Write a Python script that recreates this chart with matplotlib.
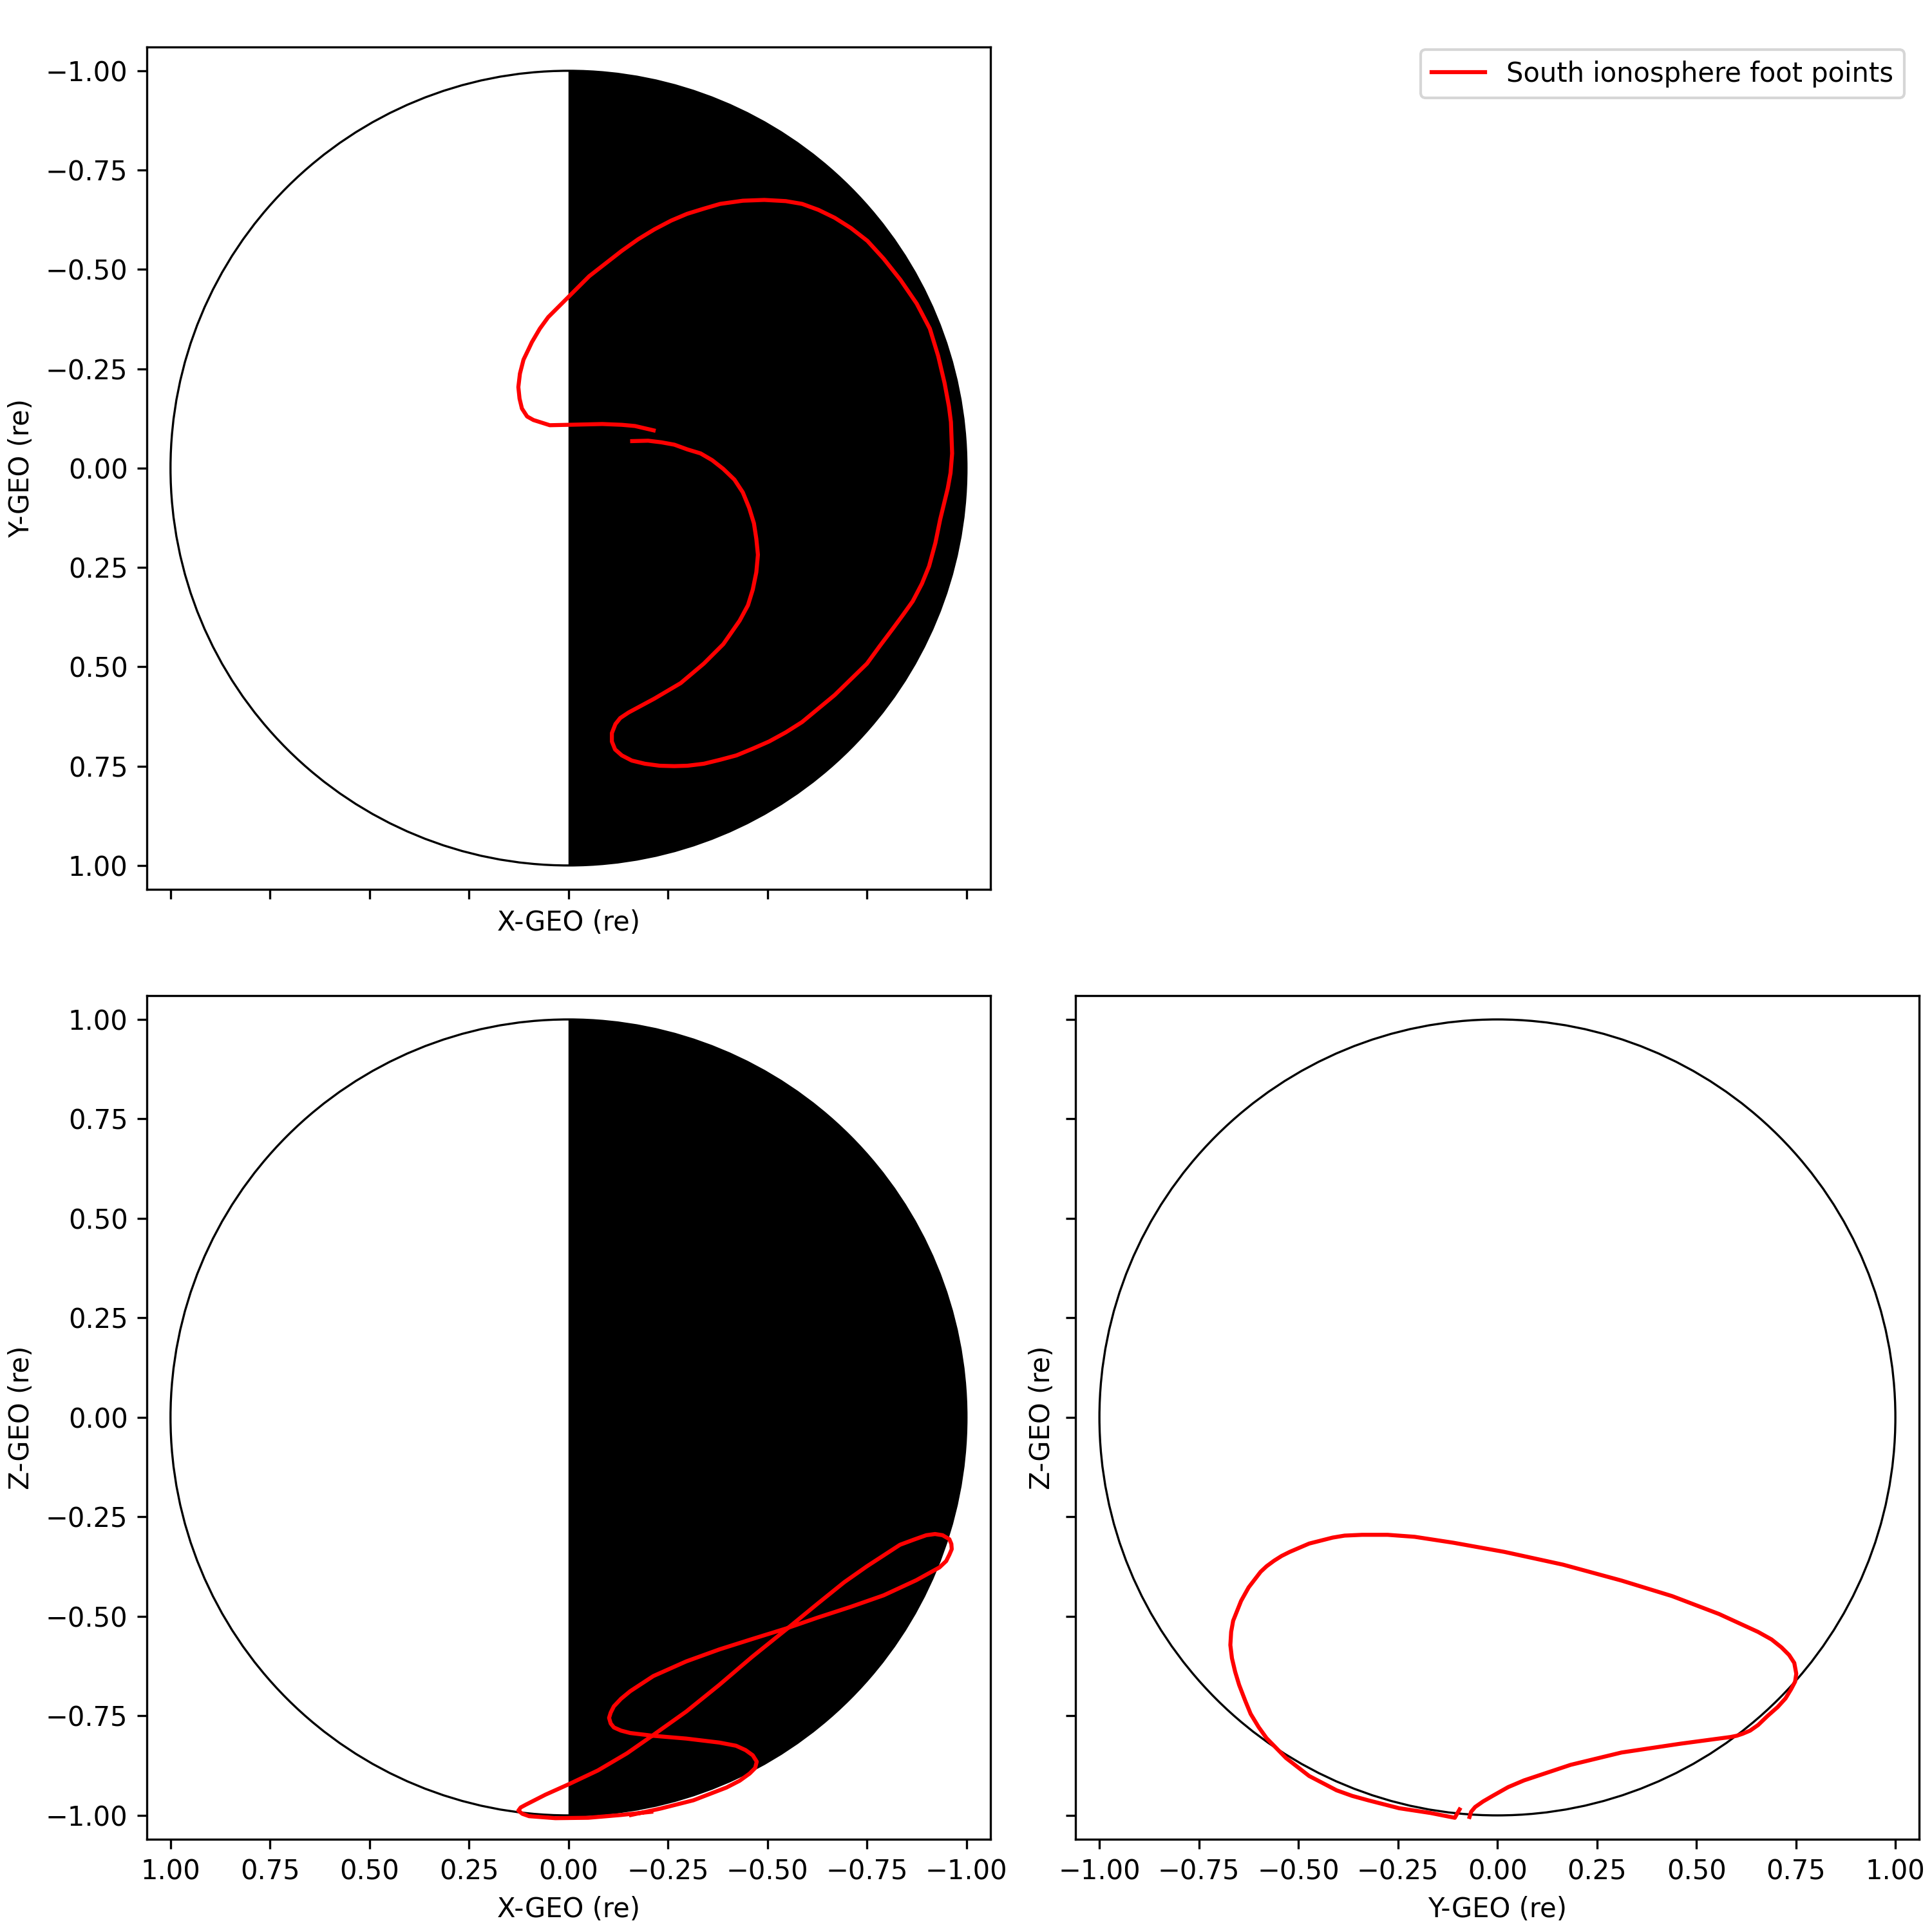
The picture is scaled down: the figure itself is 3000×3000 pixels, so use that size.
import numpy as np
import matplotlib
matplotlib.use("Agg")
import matplotlib.pyplot as plt
from matplotlib.patches import Circle, Wedge

# foot point trace, X-Y projection
xy_x = [-0.214, -0.167, -0.134, -0.085, 0.0, 0.047, 0.088, 0.104, 0.117, 0.123,
        0.126, 0.122, 0.113, 0.100, 0.092, 0.072, 0.051, 0.026, 0.0, -0.052,
        -0.134, -0.175, -0.216, -0.258, -0.298, -0.340, -0.381, -0.438, -0.492, -0.546,
        -0.587, -0.628, -0.669, -0.710, -0.751, -0.792, -0.834, -0.875, -0.908, -0.929,
        -0.945, -0.956, -0.961, -0.964, -0.960, -0.953, -0.934, -0.922, -0.906, -0.888,
        -0.865, -0.840, -0.815, -0.782, -0.750, -0.710, -0.669, -0.628, -0.587, -0.546,
        -0.504, -0.463, -0.422, -0.381, -0.340, -0.299, -0.266, -0.229, -0.192, -0.159,
        -0.134, -0.117, -0.109, -0.109, -0.118, -0.130, -0.151, -0.216, -0.282, -0.340,
        -0.389, -0.430, -0.451, -0.463, -0.472, -0.476, -0.472, -0.466, -0.454, -0.438,
        -0.417, -0.389, -0.361, -0.332, -0.299, -0.266, -0.233, -0.200, -0.160]
xy_y = [-0.095, -0.106, -0.109, -0.111, -0.109, -0.108, -0.121, -0.130, -0.150, -0.175,
        -0.204, -0.238, -0.273, -0.300, -0.317, -0.351, -0.380, -0.405, -0.431, -0.483,
        -0.547, -0.576, -0.601, -0.623, -0.640, -0.653, -0.665, -0.673, -0.675, -0.672,
        -0.665, -0.650, -0.630, -0.604, -0.572, -0.527, -0.474, -0.414, -0.351, -0.282,
        -0.214, -0.155, -0.116, -0.037, 0.012, 0.051, 0.129, 0.188, 0.247, 0.291,
        0.335, 0.370, 0.404, 0.448, 0.492, 0.531, 0.571, 0.605, 0.639, 0.665,
        0.688, 0.706, 0.723, 0.734, 0.744, 0.749, 0.750, 0.749, 0.744, 0.736,
        0.723, 0.708, 0.688, 0.667, 0.644, 0.629, 0.615, 0.580, 0.541, 0.492,
        0.443, 0.384, 0.345, 0.306, 0.262, 0.218, 0.178, 0.139, 0.100, 0.061,
        0.029, 0.002, -0.020, -0.037, -0.047, -0.059, -0.065, -0.069, -0.068]

# X-Z projection
xz_x = [-0.208, -0.132, -0.050, 0.033, 0.099, 0.116, 0.126, 0.120, 0.107, 0.058,
        0.0, -0.074, -0.147, -0.213, -0.296, -0.379, -0.461, -0.548, -0.626, -0.693,
        -0.750, -0.833, -0.868, -0.899, -0.921, -0.940, -0.957, -0.962, -0.963, -0.957,
        -0.949, -0.932, -0.874, -0.792, -0.709, -0.626, -0.548, -0.461, -0.379, -0.296,
        -0.213, -0.155, -0.132, -0.114, -0.106, -0.102, -0.106, -0.114, -0.132, -0.155,
        -0.213, -0.296, -0.379, -0.421, -0.445, -0.463, -0.473, -0.469, -0.455, -0.430,
        -0.397, -0.314, -0.231, -0.157]
xz_z = [-0.991, -0.999, -1.006, -1.007, -1.002, -0.996, -0.988, -0.980, -0.973, -0.948,
        -0.922, -0.887, -0.844, -0.798, -0.739, -0.672, -0.602, -0.532, -0.468, -0.414,
        -0.374, -0.320, -0.307, -0.296, -0.293, -0.296, -0.306, -0.318, -0.331, -0.345,
        -0.361, -0.377, -0.409, -0.447, -0.476, -0.503, -0.530, -0.557, -0.583, -0.613,
        -0.650, -0.688, -0.707, -0.726, -0.742, -0.755, -0.769, -0.779, -0.787, -0.793,
        -0.800, -0.807, -0.817, -0.825, -0.836, -0.849, -0.865, -0.881, -0.895, -0.913,
        -0.930, -0.962, -0.983, -0.999]

# Y-Z projection
yz_y = [-0.095, -0.107, -0.168, -0.247, -0.325, -0.365, -0.404, -0.473, -0.531, -0.580,
        -0.600, -0.620, -0.634, -0.649, -0.659, -0.667, -0.671, -0.669, -0.664, -0.654,
        -0.644, -0.625, -0.595, -0.580, -0.561, -0.542, -0.522, -0.473, -0.414, -0.384,
        -0.340, -0.276, -0.208, -0.110, 0.018, 0.165, 0.312, 0.439, 0.557, 0.655,
        0.689, 0.714, 0.733, 0.746, 0.751, 0.748, 0.738, 0.724, 0.704, 0.679,
        0.655, 0.635, 0.616, 0.601, 0.586, 0.459, 0.312, 0.184, 0.067, 0.027,
        -0.012, -0.036, -0.056, -0.066, -0.070]
yz_z = [-0.985, -1.006, -0.994, -0.982, -0.962, -0.951, -0.937, -0.901, -0.856, -0.806,
        -0.778, -0.745, -0.711, -0.672, -0.639, -0.605, -0.572, -0.539, -0.511, -0.486,
        -0.461, -0.427, -0.388, -0.374, -0.360, -0.348, -0.338, -0.317, -0.302, -0.297,
        -0.295, -0.295, -0.300, -0.315, -0.338, -0.370, -0.410, -0.449, -0.494, -0.539,
        -0.558, -0.578, -0.597, -0.617, -0.644, -0.664, -0.683, -0.706, -0.728, -0.750,
        -0.773, -0.787, -0.795, -0.800, -0.803, -0.820, -0.842, -0.873, -0.912, -0.929,
        -0.951, -0.965, -0.979, -0.991, -1.004]

ticks = [-1.0, -0.75, -0.5, -0.25, 0.0, 0.25, 0.5, 0.75, 1.0]
label = "South ionosphere foot points"

fig, axs = plt.subplots(2, 2, figsize=(10, 10), sharex='col', sharey='row')
ax_xy, ax_leg = axs[0]
ax_xz, ax_yz = axs[1]

ax_xy.set_position([0.0759, 0.5397, 0.4367, 0.436])
ax_leg.set_position([0.5567, 0.5397, 0.4367, 0.436])
ax_xz.set_position([0.0759, 0.0480, 0.4367, 0.4367])
ax_yz.set_position([0.5567, 0.0480, 0.4367, 0.4367])


def earth(ax, night=True):
    if night:
        ax.add_patch(Wedge((0, 0), 1, 90, 270, facecolor='black', edgecolor='none'))
    ax.add_patch(Circle((0, 0), 1, fill=False, edgecolor='black', linewidth=0.8))


earth(ax_xy)
ax_xy.plot(xy_x, xy_y, color='red', linewidth=1.5, label=label)
earth(ax_xz)
ax_xz.plot(xz_x, xz_z, color='red', linewidth=1.5)
earth(ax_yz, night=False)
ax_yz.plot(yz_y, yz_z, color='red', linewidth=1.5)

ax_xz.set_xlim(1.06, -1.06)
ax_yz.set_xlim(-1.06, 1.06)
ax_xy.set_ylim(1.06, -1.06)
ax_xz.set_ylim(-1.06, 1.06)

ax_xz.set_xticks(ticks)
ax_yz.set_xticks(ticks)
ax_xy.set_yticks(ticks)
ax_xz.set_yticks(ticks)

ax_xy.set_xlabel("X-GEO (re)")
ax_xy.set_ylabel("Y-GEO (re)")
ax_xz.set_xlabel("X-GEO (re)")
ax_xz.set_ylabel("Z-GEO (re)")
ax_yz.set_xlabel("Y-GEO (re)")
ax_yz.set_ylabel("Z-GEO (re)")

ax_leg.axis('off')
h, l = ax_xy.get_legend_handles_labels()
ax_leg.legend(h, l, loc='upper right', bbox_to_anchor=(0.9857, 0.9743),
              bbox_transform=fig.transFigure, borderaxespad=0)

fig.savefig("out.png", dpi=300)
